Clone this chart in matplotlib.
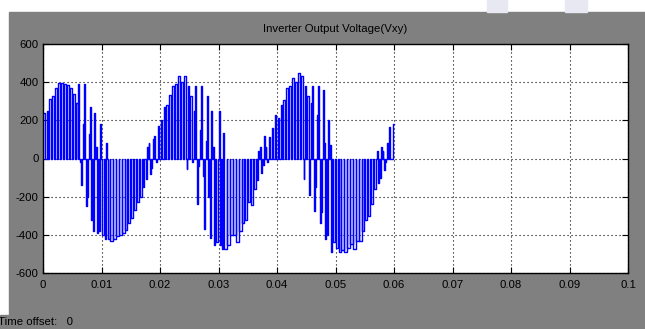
import matplotlib
matplotlib.use('Agg')
import matplotlib.pyplot as plt
from matplotlib.patches import Rectangle

plt.rcParams['font.family'] = ['Liberation Sans Narrow', 'Liberation Sans', 'DejaVu Sans']
plt.rcParams['axes.unicode_minus'] = False

# switching period of the trace (s)
step = 0.0005
# positive / negative pulse height in each switching period
pos = [240, 250, 310, 330, 370, 395, 395, 390, 385, 370,
       340, 290, 390, 180, 390, 130, 270, 240, 60, 180,
       0, 80, 0, 0, 0, 0, 0, 0, 0, 0,
       0, 0, 0, 0, 0, 60, 80, 100, 120, 170,
       200, 270, 280, 335, 380, 390, 430, 400, 430, 380,
       325, 250, 380, 150, 380, 90, 325, 250, 60, 0,
       250, 135, 0, 0, 0, 0, 0, 0, 0, 0,
       0, 0, 0, 40, 60, 120, 60, 115, 160, 230,
       210, 280, 305, 370, 380, 420, 400, 450, 430, 380,
       325, 290, 380, 230, 380, 360, 80, 200, 70, 0,
       0, 0, 0, 0, 0, 0, 0, 0, 0, 0,
       0, 0, 0, 0, 40, 60, 40, 80, 165, 180]
neg = [0, 0, 0, 0, 0, 0, 0, 0, 0, 0,
       0, 0, -20, -140, -250, -200, -320, -380, -390, -380,
       -400, -420, -420, -430, -420, -405, -400, -390, -375, -340,
       -310, -270, -230, -200, -150, -110, -80, -50, -20, 0,
       0, 0, 0, 0, 0, 0, 0, 0, 0, -55,
       0, -20, -236, -40, -90, -370, -200, -417, -455, -440,
       -455, -475, -475, -455, -400, -400, -436, -380, -340, -322,
       -230, -245, -160, -112, -75, -36, -20, 0, 0, 0,
       0, 0, 0, 0, 0, 0, 0, 0, 0, -110,
       0, -190, -273, -150, -340, -280, -420, -400, -490, -440,
       -470, -490, -480, -490, -470, -450, -475, -430, -430, -380,
       -320, -300, -240, -160, -130, -100, -60, -20, 0, 0]

xticks = [0, 0.01, 0.02, 0.03, 0.04, 0.05, 0.06, 0.07, 0.08, 0.09, 0.1]
xlabels = ['0', '0.01', '0.02', '0.03', '0.04', '0.05', '0.06', '0.07', '0.08', '0.09', '0.1']
yticks = [-600, -400, -200, 0, 200, 400, 600]

# build the pulse train
t, v = [], []
n = len(pos)
for k in range(n):
    t0 = k * step
    pulses = [h for h in (pos[k], neg[k]) if h != 0]
    if k % 2 == 1:
        pulses = pulses[::-1]
    if len(pulses) == 1:
        h = pulses[0]
        w = step * (0.12 + 0.78 * min(abs(h), 450) / 450)
        a = t0 + (step - w) / 2
        if k == 0:
            a = 0.0
        if k == n - 1:
            a = t0 + step - w
            t += [a, a, t0 + step]
            v += [0, h, h]
            continue
        t += [a, a, a + w, a + w]
        v += [0, h, h, 0]
    elif len(pulses) == 2:
        for j, h in enumerate(pulses):
            a = t0 + step * (0.08 + 0.5 * j)
            w = step * 0.32
            t += [a, a, a + w, a + w]
            v += [0, h, h, 0]

fig = plt.figure(figsize=(6.45, 3.29), dpi=100, facecolor='white')
gray = '#808080'
fig.patches.append(Rectangle((9 / 645, 0), 1, 1 - 12 / 329, transform=fig.transFigure,
                             color=gray, zorder=0))
fig.patches.append(Rectangle((0, 0), 9 / 645, 14 / 329, transform=fig.transFigure,
                             color=gray, zorder=0))
# faint watermark at the top right
fig.patches.append(Rectangle((487 / 645, 1 - 12 / 329), 20 / 645, 12 / 329,
                             transform=fig.transFigure, color='#e8e8f3', zorder=0))
fig.patches.append(Rectangle((565 / 645, 1 - 12 / 329), 22 / 645, 12 / 329,
                             transform=fig.transFigure, color='#e8e8f3', zorder=0))

ax = fig.add_axes([43 / 645, 1 - 273 / 329, 585 / 645, 229 / 329])
ax.set_zorder(2)
ax.set_facecolor('white')
ax.plot(t, v, color='#0000ff', linewidth=1.0)

ax.set_xlim(0, 0.1)
ax.set_ylim(-600, 600)
ax.set_xticks(xticks)
ax.set_xticklabels(xlabels)
ax.set_yticks(yticks)
ax.grid(True, color='black', linestyle=(0, (1, 2.6)), linewidth=0.8)
ax.tick_params(direction='in', length=4, width=0.8, top=True, right=True,
               labelsize=8.2, colors='black')
ax.tick_params(axis='x', pad=5)
ax.tick_params(axis='y', pad=3)
for s in ax.spines.values():
    s.set_color('black')
    s.set_linewidth(1.0)

fig.text(335.5 / 645, 1 - 29 / 329, 'Inverter Output Voltage(Vxy)', ha='center', va='center',
         fontsize=8.2, color='black', zorder=3)
fig.text(-2 / 645, 1 - 322 / 329, 'Time offset:   0', ha='left', va='center',
         fontsize=8.2, color='black', zorder=3)

fig.savefig('out.png', dpi=100, facecolor=fig.get_facecolor())
